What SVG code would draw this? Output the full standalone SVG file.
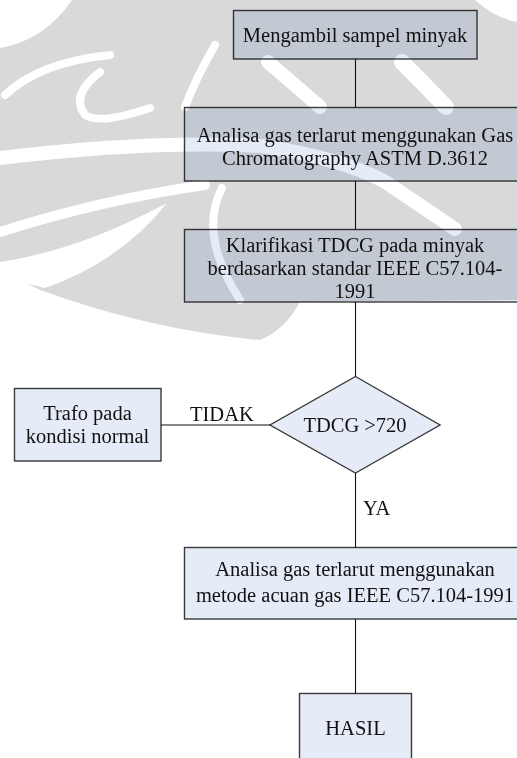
<svg xmlns="http://www.w3.org/2000/svg" width="517" height="758" viewBox="0 0 517 758">
<style>
.box{fill:#e5ecf7;stroke:#3a3a3a;stroke-width:1.4;mix-blend-mode:multiply}
.t{font-family:"Liberation Serif","Times New Roman",serif;font-size:20.5px;fill:#111;text-anchor:middle}
.tl{font-family:"Liberation Serif","Times New Roman",serif;font-size:20.5px;fill:#111}
.c{stroke:#111;stroke-width:1.1;fill:none}
.wm{fill:#d9d9d9}
.wc{fill:none;stroke:#fff;stroke-linecap:round}
</style>
<rect width="517" height="758" fill="#fff"/>
<g id="watermark">
<path class="wm" d="M0,48 Q45,40 72,0 L475,0 Q495,18 517,22 L517,300 L300,302 Q285,330 260,340 Q150,330 40,290 L0,270 Z"/>
<path class="wc" stroke-width="14" d="M0,158 Q150,140 262,146 Q340,158 384,181 L455,229"/>
<path class="wc" stroke-width="8" d="M5,95 Q40,62 110,55"/>
<path class="wc" stroke-width="8" d="M100,72 Q70,95 85,115 Q100,125 150,108"/>
<path class="wc" stroke-width="8" d="M215,45 Q195,80 185,107"/>
<path class="wc" stroke-width="14" d="M268,62 Q295,85 320,107"/>
<path class="wc" stroke-width="16" d="M402,62 Q425,85 446,107"/>
<path class="wc" stroke-width="10" d="M0,232 Q100,200 205,185"/>
<path fill="#fff" d="M0,262 Q80,250 167,203 Q120,262 45,288 Q20,282 0,276 Z"/>
<path class="wc" stroke-width="8" d="M222,188 Q198,235 240,300"/>
</g>
<g id="connectors">
<line class="c" x1="355.5" y1="59" x2="355.5" y2="107.5"/>
<line class="c" x1="355.5" y1="181" x2="355.5" y2="229.5"/>
<line class="c" x1="355.5" y1="302" x2="355.5" y2="376.5"/>
<line class="c" x1="161" y1="425" x2="270" y2="425"/>
<line class="c" x1="355.5" y1="473" x2="355.5" y2="547.5"/>
<line class="c" x1="355.5" y1="619" x2="355.5" y2="693.5"/>
<text class="tl" x="190" y="421">TIDAK</text>
<text class="tl" x="363" y="515">YA</text>
</g>
<g id="n1">
<rect class="box" x="233.5" y="10.5" width="243.5" height="48.5"/>
<text class="t" x="355" y="42">Mengambil sampel minyak</text>
</g>
<g id="n2">
<rect class="box" x="184.5" y="107.5" width="345" height="73.5"/>
<text class="t" x="355" y="142">Analisa gas terlarut menggunakan Gas</text>
<text class="t" x="355" y="165">Chromatography ASTM D.3612</text>
</g>
<g id="n3">
<rect class="box" x="184.5" y="229.5" width="345" height="72.5"/>
<text class="t" x="355" y="252">Klarifikasi TDCG pada minyak</text>
<text class="t" x="355" y="275">berdasarkan standar IEEE C57.104-</text>
<text class="t" x="355" y="298">1991</text>
</g>
<g id="n4">
<polygon class="box" points="355.5,376.5 440,425 355.5,473 270,425"/>
<text class="t" x="355" y="432">TDCG &gt;720</text>
</g>
<g id="n5">
<rect class="box" x="14.5" y="388.5" width="146.5" height="72.5"/>
<text class="t" x="87.5" y="420">Trafo pada</text>
<text class="t" x="87.5" y="443">kondisi normal</text>
</g>
<g id="n6">
<rect class="box" x="184.5" y="547.5" width="345" height="71.5"/>
<text class="t" x="355" y="576">Analisa gas terlarut menggunakan</text>
<text class="t" x="355" y="602">metode acuan gas IEEE C57.104-1991</text>
</g>
<g id="n7">
<rect class="box" x="299.5" y="693.5" width="112" height="80"/>
<text class="t" x="355.5" y="735">HASIL</text>
</g>
</svg>
